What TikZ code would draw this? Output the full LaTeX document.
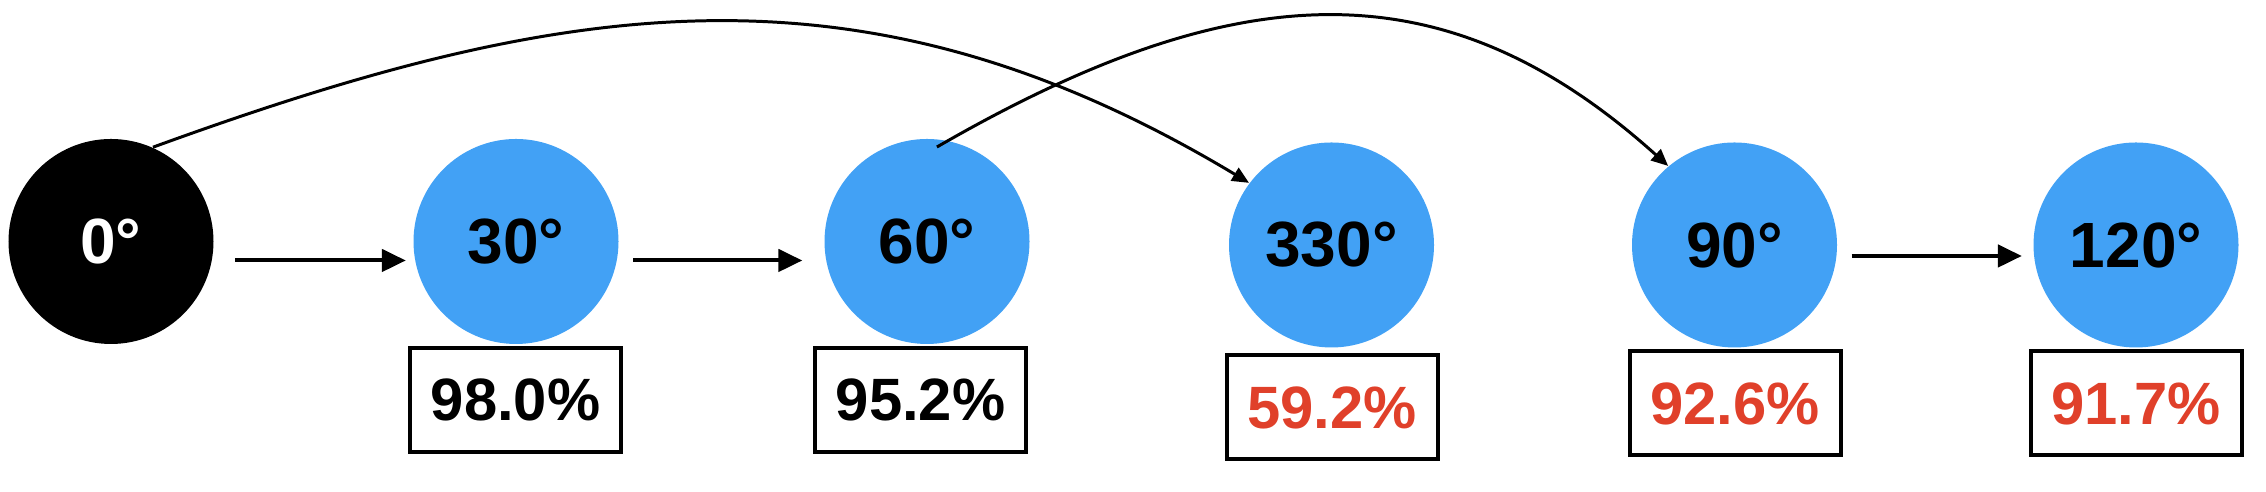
\documentclass[tikz,border=0pt]{standalone}
\usepackage{fontspec}
\setmainfont{Liberation Sans}
\usetikzlibrary{arrows.meta,calc}
\definecolor{cblue}{HTML}{42A1F5}
\definecolor{cred}{HTML}{E0402A}
\begin{document}
\begin{tikzpicture}[
  deg/.style={circle, fill=cblue, minimum size=2.05cm, inner sep=0pt, font=\fontsize{18.2}{20}\selectfont\bfseries},
  pbox/.style={draw, line width=1.14pt, minimum width=2.11cm, minimum height=1.04cm, inner sep=0pt, font=\fontsize{17}{20}\selectfont\bfseries},
  arr/.style={line width=1.14pt, -{Triangle[length=6.8pt,width=6.3pt]}},
  carr/.style={line width=0.85pt, -{Triangle[length=4.8pt,width=4.2pt]}},
]
\useasboundingbox (0,0) rectangle (22.66,4.92);
\node[deg, fill=black, text=white] (c0) at (1.11,2.505) {0°};
\node[deg] (c1) at (5.16,2.505) {30°};
\node[deg] (c2) at (9.27,2.505) {60°};
\node[deg] (c3) at (13.315,2.47) {330°};
\node[deg] (c4) at (17.345,2.47) {90°};
\node[deg] (c5) at (21.36,2.47) {120°};

\node[pbox] (b1) at (5.156,0.92) {98.0\%};
\node[pbox] (b2) at (9.205,0.92) {95.2\%};
\node[pbox, text=cred] (b3) at (13.32,0.845) {59.2\%};
\node[pbox, text=cred] (b4) at (17.35,0.885) {92.6\%};
\node[pbox, text=cred] (b5) at (21.36,0.885) {91.7\%};

\draw[arr] ([xshift=0.21cm,yshift=-0.19cm]c0.east) -- ([xshift=-0.07cm,yshift=-0.19cm]c1.west);
\draw[arr] ([xshift=0.14cm,yshift=-0.19cm]c1.east) -- ([xshift=-0.215cm,yshift=-0.19cm]c2.west);
\draw[arr] ([xshift=0.14cm,yshift=-0.11cm]c4.east) -- ([xshift=-0.11cm,yshift=-0.11cm]c5.west);

\draw[carr] (c0.66) .. controls +(20:4.38) and +(149:4.51) .. (c3.143);
\draw[carr] ($(c2.center)+(84:0.95)$) .. controls +(30:3.48) and +(138:3.0) .. (c4.130);
\end{tikzpicture}
\end{document}
